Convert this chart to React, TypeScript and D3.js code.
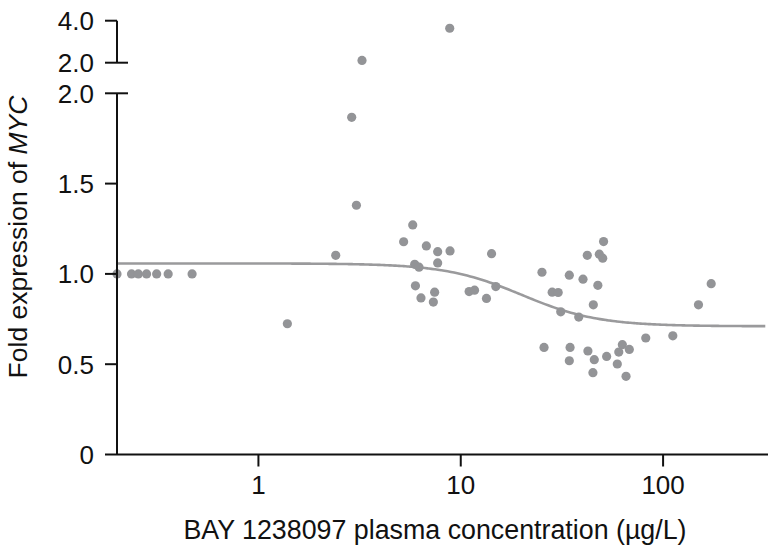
import * as d3 from 'd3';

// plasma concentration (µg/L) and fold expression of MYC, one entry per patient sample
const concentrations = [
  0.2, 0.236, 0.255, 0.28, 0.314, 0.358, 0.47,
  1.39, 2.41, 2.89, 3.25, 3.05, 8.82,
  5.79, 5.22, 6.76, 7.69, 8.85, 14.2, 5.92, 6.22, 7.69, 5.97,
  6.36, 7.43, 7.32, 11.0, 11.7, 13.4, 14.9, 25.2, 28.3, 30.3,
  31.2, 34.4, 38.3, 40.2, 42.2, 48.4, 50.3, 50.8, 47.6, 45.2,
  25.8, 34.7, 34.4, 42.5, 45.7, 45.0, 52.6, 59.4, 60.4, 62.9,
  68.1, 65.6, 82.1, 111.7, 149.6, 172.9,
];
const foldExpression = [
  1.0, 1.0, 1.0, 1.0, 1.0, 1.0, 1.0,
  0.724, 1.103, 1.867, 2.11, 1.38, 3.64,
  1.271, 1.178, 1.155, 1.123, 1.127, 1.112, 1.053, 1.037, 1.061, 0.934,
  0.867, 0.899, 0.844, 0.902, 0.91, 0.864, 0.93, 1.009, 0.899, 0.897,
  0.79, 0.993, 0.761, 0.971, 1.103, 1.109, 1.087, 1.179, 0.937, 0.829,
  0.593, 0.593, 0.519, 0.573, 0.525, 0.453, 0.543, 0.501, 0.567, 0.608,
  0.582, 0.433, 0.645, 0.657, 0.829, 0.946,
];

// fitted 4-parameter logistic curve
const FIT_TOP = 1.058;
const FIT_BOTTOM = 0.71;
const FIT_EC50 = 20;
const FIT_HILL = 2.3;

const xTicks = [1, 10, 100];
const lowerTicks = [0, 0.5, 1.0, 1.5, 2.0];
const upperTicks = [2.0, 4.0];

const W = 768;
const H = 546;
const AXIS_X = 117;
const FONT = '"Liberation Sans", Arial, Helvetica, sans-serif';
const POINT_COLOR = '#939497';
const CURVE_COLOR = '#9a9a9c';

export default function App() {
  const x = d3.scaleLog().domain([0.2, 330]).range([AXIS_X, W]);
  const yLow = d3.scaleLinear().domain([0, 2]).range([454.5, 93.3]);
  const yHigh = d3.scaleLinear().domain([2, 4]).range([62.7, 20.7]);
  const y = (v: number) => (v > 2 ? yHigh(v) : yLow(v));

  const fit = (c: number) =>
    FIT_BOTTOM + (FIT_TOP - FIT_BOTTOM) / (1 + Math.pow(c / FIT_EC50, FIT_HILL));
  const curveXs = d3.range(0, 201).map((i) => 0.2 * Math.pow(320 / 0.2, i / 200));
  const line = d3
    .line<number>()
    .x((c) => x(c))
    .y((c) => yLow(fit(c)))
    .curve(d3.curveMonotoneX);

  const fmt = (v: number) => (v === 0 ? '0' : v.toFixed(1));

  return (
    <svg
      width={W}
      height={H}
      viewBox={`0 0 ${W} ${H}`}
      style={{ position: 'absolute', left: 0, top: 0, display: 'block', background: '#fff' }}
      fontFamily={FONT}
    >
      {/* fitted curve */}
      <path d={line(curveXs) || ''} fill="none" stroke={CURVE_COLOR} strokeWidth={2.6} />

      {/* data points */}
      {concentrations.map((c, i) => (
        <circle key={i} cx={x(c)} cy={y(foldExpression[i])} r={4.6} fill={POINT_COLOR} />
      ))}

      {/* y axis, upper segment */}
      <g stroke="#111" strokeWidth={2} fill="none">
        <line x1={AXIS_X} x2={AXIS_X} y1={yHigh(4)} y2={yHigh(2)} />
        <line x1={105} x2={AXIS_X} y1={yHigh(4)} y2={yHigh(4)} />
        <line x1={105} x2={128} y1={yHigh(2)} y2={yHigh(2)} />
        {/* lower segment */}
        <line x1={AXIS_X} x2={AXIS_X} y1={yLow(2)} y2={yLow(0)} />
        {lowerTicks.map((t) => (
          <line key={t} x1={105} x2={t === 2 ? 128 : AXIS_X} y1={yLow(t)} y2={yLow(t)} />
        ))}
        {/* x axis */}
        <line x1={AXIS_X} x2={W} y1={yLow(0)} y2={yLow(0)} />
        {xTicks.map((t) => (
          <line key={t} x1={x(t)} x2={x(t)} y1={yLow(0)} y2={yLow(0) + 12} />
        ))}
      </g>

      {/* tick labels */}
      <g fontSize={26} fill="#111" textAnchor="end">
        {upperTicks.map((t) => (
          <text key={'u' + t} x={94} y={yHigh(t)} dy="0.36em">
            {fmt(t)}
          </text>
        ))}
        {lowerTicks.map((t) => (
          <text key={'l' + t} x={94} y={yLow(t)} dy="0.36em">
            {fmt(t)}
          </text>
        ))}
      </g>
      <g fontSize={26} fill="#111" textAnchor="middle">
        {xTicks.map((t) => (
          <text key={t} x={x(t)} y={494}>
            {t}
          </text>
        ))}
      </g>

      {/* axis titles */}
      <text x={435} y={539} fontSize={26.8} fill="#111" textAnchor="middle">
        BAY 1238097 plasma concentration (µg/L)
      </text>
      <text
        transform="translate(27, 237) rotate(-90)"
        fontSize={26.5}
        fill="#111"
        textAnchor="middle"
      >
        Fold expression of <tspan fontStyle="italic">MYC</tspan>
      </text>
    </svg>
  );
}
